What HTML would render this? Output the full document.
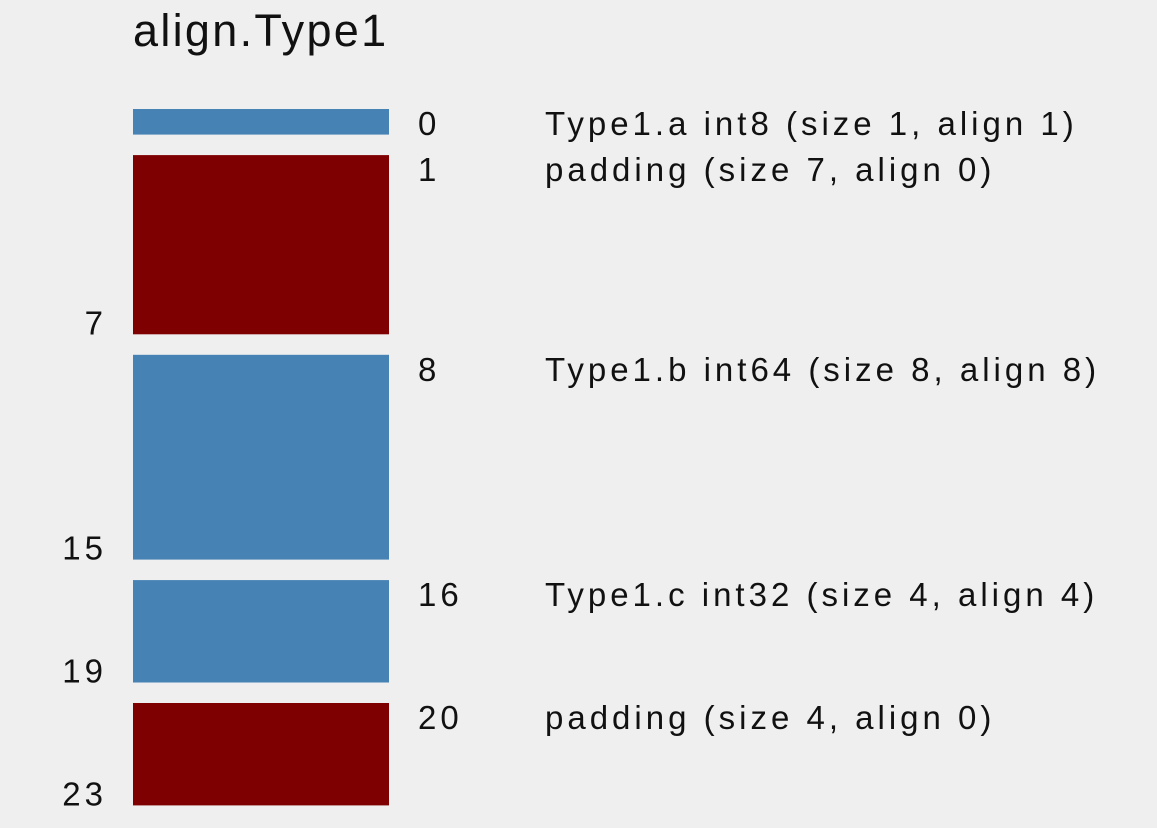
<!DOCTYPE html>
<html><head><meta charset="utf-8"><style>
html,body{margin:0;padding:0;background:#efefef;}
svg{display:block}
text{font-family:"Liberation Sans","DejaVu Sans",sans-serif;fill:#111;}
.lbl{letter-spacing:4px;}
</style></head><body>
<svg id="chart" width="1157" height="828">
<text x="133" y="46" font-size="45" style="letter-spacing:2.3px">align.Type1</text>
<g id="blocks"></g>
</svg>
<script>
const offsets=[0,1,8,16,20];
const sizes=[1,7,8,4,4];
const kinds=["field","padding","field","field","padding"];
const descs=["Type1.a int8 (size 1, align 1)","padding (size 7, align 0)","Type1.b int64 (size 8, align 8)","Type1.c int32 (size 4, align 4)","padding (size 4, align 0)"];
const unit=25.6, gap=20.5, top0=109;
function yOf(off,i){return top0+off*unit+i*gap;}
const g=document.getElementById('blocks');
const NS='http://www.w3.org/2000/svg';
for(let i=0;i<offsets.length;i++){
  const y=yOf(offsets[i],i), h=sizes[i]*unit;
  const r=document.createElementNS(NS,'rect');
  r.setAttribute('x',133);r.setAttribute('y',y);r.setAttribute('width',256);r.setAttribute('height',h);
  r.setAttribute('fill',kinds[i]==='padding'?'#7f0000':'#4682b4');
  
  
  g.appendChild(r);
  const t=document.createElementNS(NS,'text');
  t.setAttribute('x',418);t.setAttribute('y',y+26);t.setAttribute('font-size',33);
  t.setAttribute('class','lbl');
  t.textContent=offsets[i];
  
  
  g.appendChild(t);
  const d=document.createElementNS(NS,'text');
  d.setAttribute('x',545);d.setAttribute('y',y+26);d.setAttribute('font-size',33);
  d.setAttribute('class','lbl');
  d.textContent=descs[i];
  
  
  g.appendChild(d);
  if(sizes[i]>1){
    const e=document.createElementNS(NS,'text');
    e.setAttribute('x',107);e.setAttribute('y',y+h);e.setAttribute('font-size',33);
    e.setAttribute('text-anchor','end');
    e.setAttribute('class','lbl');
    e.textContent=offsets[i]+sizes[i]-1;
    
    
    g.appendChild(e);
  }
}
</script>
</body></html>
